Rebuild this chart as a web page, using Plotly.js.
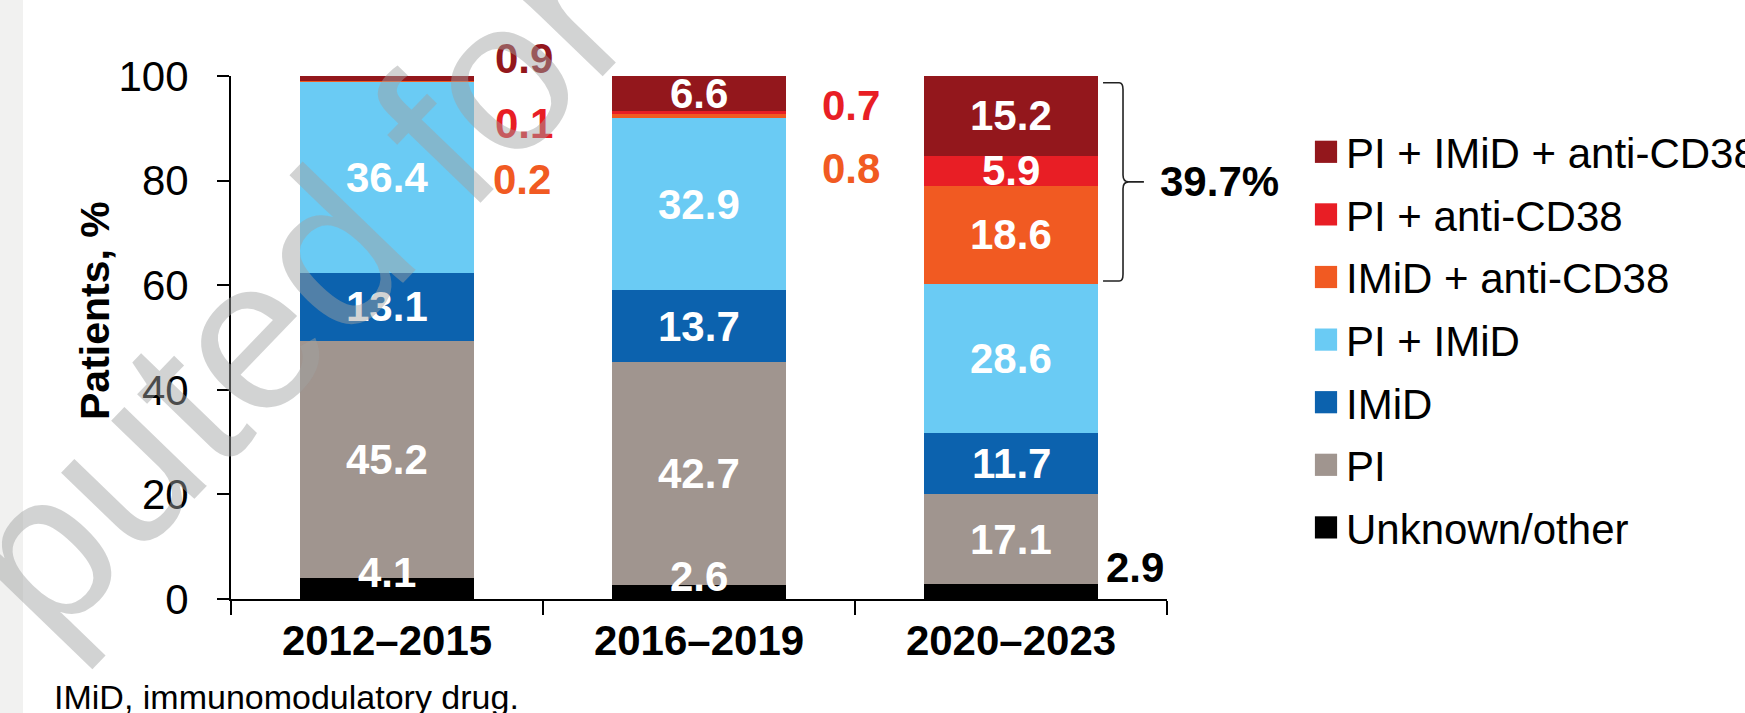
<!DOCTYPE html>
<html>
<head>
<meta charset="utf-8">
<script src="https://cdn.plot.ly/plotly-3.0.1.min.js"></script>
<style>
  html, body { margin: 0; padding: 0; background: #ffffff; }
  #chart { width: 1745px; height: 713px; }
</style>
</head>
<body>
<div id="chart"></div>
<script>
// ---------------- DATA ----------------
const categories = ['2012–2015', '2016–2019', '2020–2023'];
const seriesNames = ['Unknown/other', 'PI', 'IMiD', 'PI + IMiD', 'IMiD + anti-CD38', 'PI + anti-CD38', 'PI + IMiD + anti-CD38'];
const unknownOther   = [4.1, 2.6, 2.9];
const pi             = [45.2, 42.7, 17.1];
const imid           = [13.1, 13.7, 11.7];
const piImid         = [36.4, 32.9, 28.6];
const imidAntiCD38   = [0.2, 0.8, 18.6];
const piAntiCD38     = [0.1, 0.7, 5.9];
const piImidAntiCD38 = [0.9, 6.6, 15.2];
const yTickVals = [0, 20, 40, 60, 80, 100];
const yTitle = 'Patients, %';
const footnote = 'IMiD, immunomodulatory drug.';
const watermarkText = 'puted for';

const seriesValues = [unknownOther, pi, imid, piImid, imidAntiCD38, piAntiCD38, piImidAntiCD38];

// ---------------- STYLE ----------------
const seriesColors = ['#000000', '#a0958f', '#0c62ae', '#6acbf4', '#f15a22', '#e81e25', '#93171c'];
const FONT = 'Liberation Sans, Arial, Helvetica, sans-serif';
const W = 1745, H = 713;
const M = {l: 231, r: 578, t: 76, b: 114, autoexpand: false};
const plotW = W - M.l - M.r, plotH = H - M.t - M.b;
const Y_MAX = 100;
const px2x = px => (px - M.l) / plotW;
const px2y = py => (H - M.b - py) / plotH;
const barWidth = 0.555;

// labels drawn outside the bars: [series, bar, y (data units), x offset px from bar centre, colour]
const outsideLabels = [
  {s: 6, b: 0, y: 103.3, dx: 106, color: '#93171c'},
  {s: 5, b: 0, y: 91.0,  dx: 106, color: '#e81e25'},
  {s: 4, b: 0, y: 80.3,  dx: 104, color: '#f15a22'},
  {s: 5, b: 1, y: 94.4,  dx: 121, color: '#e81e25'},
  {s: 4, b: 1, y: 82.4,  dx: 121, color: '#f15a22'},
  {s: 0, b: 2, y: 6.0,   dx: 93,  color: '#000000'}
];
const isOutside = (s, b) => outsideLabels.some(o => o.s === s && o.b === b);

// ---------------- TRACES ----------------
const traces = seriesNames.map((name, s) => ({
  type: 'bar',
  name: name,
  x: categories,
  y: seriesValues[s],
  width: barWidth,
  marker: {color: seriesColors[s], line: {width: 0}},
  legendgroup: 'g' + s,
  legendrank: 1000 - s * 10,
  hoverinfo: 'skip'
}));

// ---------------- ANNOTATIONS ----------------
const annotations = [];
categories.forEach((cat, b) => {
  let base = 0;
  seriesValues.forEach((vals, s) => {
    const v = vals[b];
    const mid = base + v / 2;
    if (!isOutside(s, b)) {
      annotations.push({
        x: cat, y: mid, xref: 'x', yref: 'y',
        text: '<b>' + v.toFixed(1) + '</b>',
        showarrow: false,
        font: {family: FONT, size: 42, color: '#ffffff'},
        xanchor: 'center', yanchor: 'middle',
        yshift: s === 0 ? 16 : 0
      });
    }
    base += v;
  });
});
outsideLabels.forEach(o => {
  annotations.push({
    x: categories[o.b], y: o.y / Y_MAX, xref: 'x', yref: 'paper',
    text: '<b>' + seriesValues[o.s][o.b].toFixed(1) + '</b>',
    showarrow: false,
    font: {family: FONT, size: 42, color: o.color},
    xanchor: 'left', yanchor: 'middle',
    xshift: o.dx
  });
});

// bracket around anti-CD38 containing regimens in last period
const lastBar = categories.length - 1;
const cdSeries = [4, 5, 6];
const cdTotal = cdSeries.reduce((a, s) => a + seriesValues[s][lastBar], 0);
const below = [0, 1, 2, 3].reduce((a, s) => a + seriesValues[s][lastBar], 0);
const yT = below + cdTotal - 1.3, yB = below + 0.5, yMid = (yT + yB) / 2;
const xL = lastBar + 0.295, xV = lastBar + 0.359, xTip = lastBar + 0.426;
const bracePath =
  `M${xL},${yT} L${xV - 0.012},${yT} Q${xV},${yT} ${xV},${yT - 1.3} ` +
  `L${xV},${yMid + 1.3} Q${xV},${yMid} ${xV + 0.018},${yMid} L${xTip},${yMid} ` +
  `M${xV + 0.018},${yMid} Q${xV},${yMid} ${xV},${yMid - 1.3} ` +
  `L${xV},${yB + 1.3} Q${xV},${yB} ${xV - 0.012},${yB} L${xL},${yB}`;

annotations.push({
  x: lastBar + 0.47, y: yMid, xref: 'x', yref: 'y',
  text: '<b>' + cdTotal.toFixed(1) + '%</b>',
  showarrow: false,
  font: {family: FONT, size: 42, color: '#000000'},
  xanchor: 'left', yanchor: 'middle'
});

// y-axis title (placed as in the reference, above the plot centre)
annotations.push({
  x: px2x(95), y: px2y(311), xref: 'paper', yref: 'paper',
  text: '<b>' + yTitle + '</b>', showarrow: false, textangle: -90,
  font: {family: FONT, size: 41, color: '#000000'},
  xanchor: 'center', yanchor: 'middle'
});

annotations.push({
  x: px2x(52), y: px2y(676), xref: 'paper', yref: 'paper',
  text: footnote, showarrow: false,
  font: {family: FONT, size: 34, color: '#000000'},
  xanchor: 'left', yanchor: 'top'
});

// watermark (drawn on top, semi transparent)
annotations.push({
  x: px2x(292), y: px2y(290), xref: 'paper', yref: 'paper',
  text: watermarkText, showarrow: false, textangle: -46,
  font: {family: FONT, size: 216, color: 'rgba(160,162,161,0.47)'},
  xanchor: 'center', yanchor: 'middle'
});

const layout = {
  width: W, height: H,
  margin: M,
  paper_bgcolor: '#ffffff',
  plot_bgcolor: '#ffffff',
  barmode: 'stack',
  showlegend: true,
  font: {family: FONT, size: 42, color: '#000000'},
  legend: {
    x: px2x(1306), y: px2y(118), xanchor: 'left', yanchor: 'top',
    traceorder: 'grouped', tracegroupgap: 5,
    font: {family: FONT, size: 42, color: '#000000'},
    bgcolor: 'rgba(0,0,0,0)', borderwidth: 0
  },
  xaxis: {
    type: 'category',
    range: [-0.5, 2.5],
    showline: true, linecolor: '#000000', linewidth: 2,
    ticks: 'outside', tickson: 'boundaries', ticklen: 14, tickwidth: 2, tickcolor: '#000000',
    tickfont: {family: FONT, size: 42, color: '#000000', weight: 'bold'},
    ticklabelstandoff: 4,
    showgrid: false, zeroline: false, fixedrange: true
  },
  yaxis: {
    range: [0, Y_MAX],
    tickvals: yTickVals,
    showline: true, linecolor: '#000000', linewidth: 2,
    ticks: 'outside', ticklen: 12, tickwidth: 2, tickcolor: '#000000',
    tickfont: {family: FONT, size: 42, color: '#000000'},
    ticklabelstandoff: 20,
    showgrid: false, zeroline: false, fixedrange: true
  },
  shapes: [
    {type: 'rect', xref: 'paper', yref: 'paper', layer: 'below',
     x0: px2x(0), x1: px2x(23), y0: px2y(H), y1: px2y(0),
     fillcolor: '#f1f1f0', line: {width: 0}},
    {type: 'path', xref: 'x', yref: 'y', path: bracePath,
     line: {color: '#222222', width: 1.6}}
  ],
  annotations: annotations
};

function enlargeLegendSwatches(gd) {
  gd.querySelectorAll('.legend .legendpoints path').forEach(p => {
    const t = p.getAttribute('transform') || '';
    if (t.indexOf('scale') === -1) p.setAttribute('transform', (t + ' scale(1.85)').trim());
  });
}

Plotly.newPlot('chart', traces, layout, {displayModeBar: false, staticPlot: true}).then(gd => {
  enlargeLegendSwatches(gd);
  gd.on('plotly_afterplot', () => enlargeLegendSwatches(gd));
});
</script>
</body>
</html>
